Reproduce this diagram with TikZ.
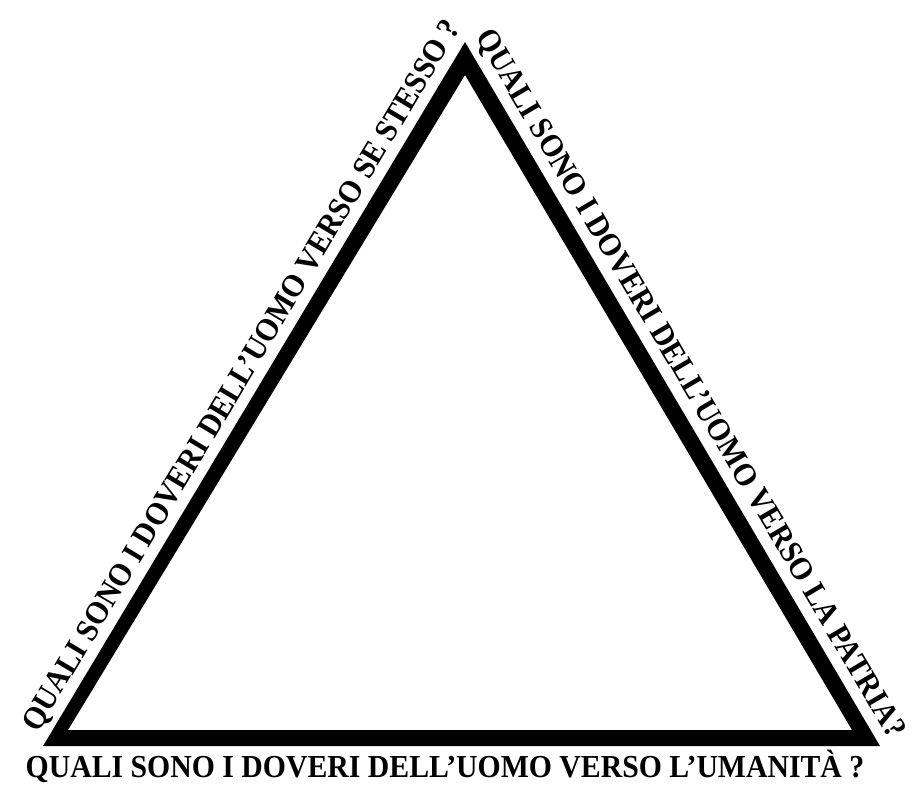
\documentclass[tikz,border=0pt]{standalone}
\usepackage{fontspec}
\usepackage{graphicx}
\setmainfont{Liberation Serif}
\newcommand{\narrowtxt}[1]{\scalebox{0.93}[1]{#1}}
\begin{document}
\begin{tikzpicture}[x=1pt,y=-1pt,
  lbl/.style={font=\fontsize{32}{38}\selectfont\bfseries, inner sep=0pt, anchor=base}]
\useasboundingbox (0,0) rectangle (920,790);
% triangle frame
\coordinate (oA) at (465,42);
\coordinate (oB) at (43,746);
\coordinate (oC) at (880,746);
\coordinate (iA) at (465,75);
\coordinate (iB) at (68,730);
\coordinate (iC) at (852,730);
\fill[black, even odd rule] (oA) -- (oB) -- (oC) -- cycle (iA) -- (iB) -- (iC) -- cycle;
% labels
\node[lbl, rotate=59.05] (left) at (249.5,380.4) {\narrowtxt{QUALI SONO I DOVERI DELL’UOMO VERSO SE STESSO ?}};
\node[lbl, rotate=-59.5] (right) at (682.7,388.5) {\narrowtxt{QUALI SONO I DOVERI DELL’UOMO VERSO LA PATRIA?}};
\node[lbl] (bottom) at (445,777) {\narrowtxt{QUALI SONO I DOVERI DELL’UOMO VERSO L’UMANITÀ ?}};
\end{tikzpicture}
\end{document}
